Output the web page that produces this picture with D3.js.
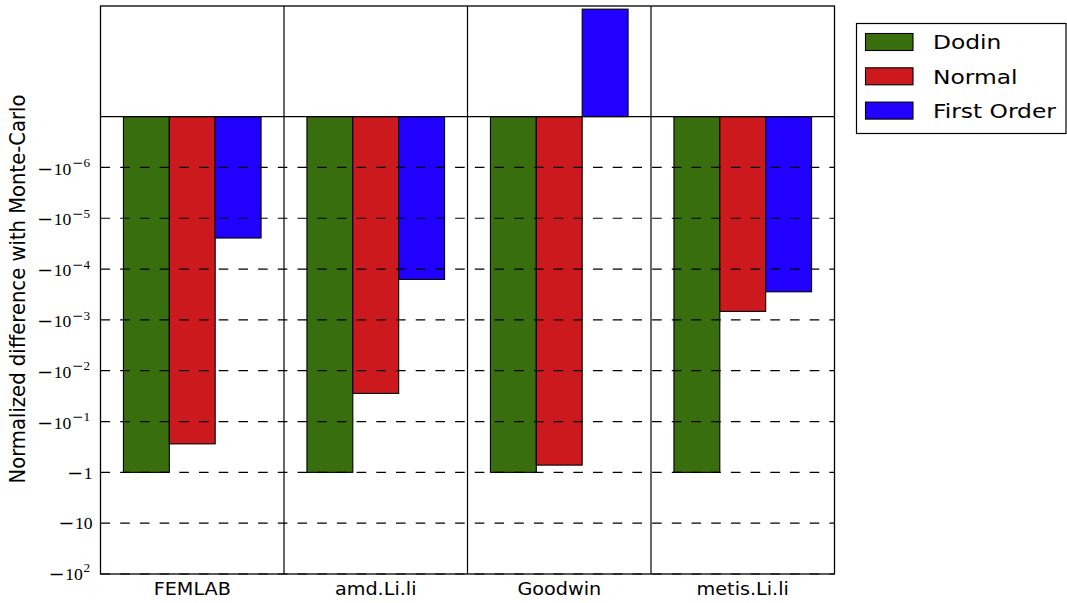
<!DOCTYPE html>
<html>
<head>
<meta charset="utf-8">
<script src="https://cdn.jsdelivr.net/npm/d3@7"></script>
<style>
  html, body { margin: 0; padding: 0; background: #fff; }
  svg { display: block; }
</style>
</head>
<body>
<svg id="chart" width="1067" height="603"></svg>
<script>
// Benchmark groups and the three estimation methods
const categories = ["FEMLAB", "amd.Li.li", "Goodwin", "metis.Li.li"];
const seriesNames = ["Dodin", "Normal", "First Order"];
const seriesColors = ["#396e0e", "#cc191e", "#2200ff"];

// Normalized difference with Monte-Carlo, one value per group
const dodin      = [-1, -1, -1, -1];
const normal     = [-0.275, -0.028, -0.72, -6.8e-4];
const firstOrder = [-2.45e-5, -1.6e-4, 1.3e-5, -2.8e-4];

// Symmetric-log axis ticks: mantissa digits and exponent of each label
const tickValues = [-1e-6, -1e-5, -1e-4, -1e-3, -1e-2, -1e-1, -1, -10, -100];
const tickBase   = ["10", "10", "10", "10", "10", "10", "1", "10", "10"];
const tickExp    = ["−6", "−5", "−4", "−3", "−2", "−1", "", "", "2"];

const yLabel = "Normalized difference with Monte-Carlo";

// symlog transform: linear within ±LINTHRESH, one decade per unit beyond it
const LINTHRESH = 1e-6;
function symlog(v) {
  const a = Math.abs(v) / LINTHRESH;
  const t = a <= 1 ? a : 1 + Math.log10(a);
  return Math.sign(v) * t;
}

const svg = d3.select("#chart");
const plotLeft = 100.5, plotRight = 834.5, plotTop = 6, plotBottom = 574;

const x = d3.scaleBand().domain(categories).range([plotLeft, plotRight]).paddingInner(0).paddingOuter(0);
const inner = d3.scaleBand().domain(seriesNames).range([0.125, 0.875]).padding(0);
const y = d3.scaleLinear().domain([symlog(-100), symlog(1.5e-5)]).range([plotBottom, plotTop]);
const yv = v => y(symlog(v));

const series = [dodin, normal, firstOrder];
const rows = [];
series.forEach((vals, si) => {
  vals.forEach((v, ci) => rows.push({ cat: categories[ci], s: seriesNames[si], si, v }));
});

// bars
svg.append("g").selectAll("rect").data(rows).join("rect")
  .attr("x", d => x(d.cat) + inner(d.s) * x.bandwidth())
  .attr("width", inner.bandwidth() * x.bandwidth())
  .attr("y", d => Math.min(yv(d.v), yv(0)))
  .attr("height", d => Math.abs(yv(d.v) - yv(0)))
  .attr("fill", d => seriesColors[d.si])
  .attr("stroke", "#000")
  .attr("stroke-width", 1.1);

// dashed grid lines at every labelled tick
svg.append("g").selectAll("line").data(tickValues).join("line")
  .attr("x1", plotLeft).attr("x2", plotRight)
  .attr("y1", d => yv(d)).attr("y2", d => yv(d))
  .attr("stroke", "#000").attr("stroke-width", 1.2)
  .attr("stroke-dasharray", "9.6,10.1");

// zero line
svg.append("line")
  .attr("x1", plotLeft).attr("x2", plotRight)
  .attr("y1", yv(0)).attr("y2", yv(0))
  .attr("stroke", "#000").attr("stroke-width", 1.2);

// group separators
svg.append("g").selectAll("line").data(categories.slice(1)).join("line")
  .attr("x1", d => x(d)).attr("x2", d => x(d))
  .attr("y1", plotTop).attr("y2", plotBottom)
  .attr("stroke", "#000").attr("stroke-width", 1.2);

// frame
svg.append("rect")
  .attr("x", plotLeft).attr("y", plotTop)
  .attr("width", plotRight - plotLeft).attr("height", plotBottom - plotTop)
  .attr("fill", "none").attr("stroke", "#000").attr("stroke-width", 1.3);

// y tick labels: long minus, serif digits, raised exponent
const tl = svg.append("g").attr("fill", "#000");
tickValues.forEach((v, i) => {
  const exp = tickExp[i];
  const hasExp = exp !== "";
  const negExp = exp.startsWith("−");
  const dy = hasExp ? (negExp ? 7.2 : 5.8) : 6.2;
  const t = tl.append("text")
    .attr("text-anchor", "end")
    .attr("font-family", "'Liberation Serif', serif")
    .attr("font-size", 16)
    .attr("transform", `translate(${hasExp ? 90 : 92.5},${yv(v) + dy}) scale(1.1,1)`);
  t.append("tspan").attr("font-family", "'DejaVu Sans', sans-serif").attr("font-size", 17.5)
    .text("−");
  t.append("tspan").attr("dx", 0.5).text(tickBase[i]);
  if (hasExp) {
    const sup = t.append("tspan").attr("dy", -7.5).attr("dx", 0.6);
    if (negExp) {
      sup.append("tspan").attr("font-family", "'DejaVu Sans', sans-serif")
        .attr("font-size", 12.5).text("−");
    }
    sup.append("tspan").attr("font-size", 12).text(negExp ? exp.slice(1) : exp);
  }
});

// x category labels
svg.append("g").selectAll("text").data(categories).join("text")
  .attr("transform", d => `translate(${x(d) + x.bandwidth() / 2},595) scale(1.13,1)`)
  .attr("text-anchor", "middle")
  .attr("font-family", "'DejaVu Sans', sans-serif")
  .attr("font-size", 17)
  .text(d => d);

// y axis title
svg.append("text")
  .attr("transform", "translate(25,289) scale(1.06,1) rotate(-90)")
  .attr("text-anchor", "middle")
  .attr("font-family", "'DejaVu Sans', sans-serif")
  .attr("font-size", 19.6)
  .text(yLabel);

// legend
const lg = svg.append("g");
lg.append("rect")
  .attr("x", 856.5).attr("y", 23.5).attr("width", 209.5).attr("height", 110)
  .attr("fill", "#fff").attr("stroke", "#000").attr("stroke-width", 1.2);
seriesNames.forEach((name, i) => {
  const cy = 42 + i * 34.3;
  lg.append("rect")
    .attr("x", 865.5).attr("y", cy - 8.5).attr("width", 47.5).attr("height", 17)
    .attr("fill", seriesColors[i]).attr("stroke", "#000").attr("stroke-width", 1.1);
  lg.append("text")
    .attr("transform", `translate(933,${cy + 7.2}) scale(1.18,1)`)
    .attr("font-family", "'DejaVu Sans', sans-serif")
    .attr("font-size", 19.8)
    .text(name);
});
</script>
</body>
</html>
